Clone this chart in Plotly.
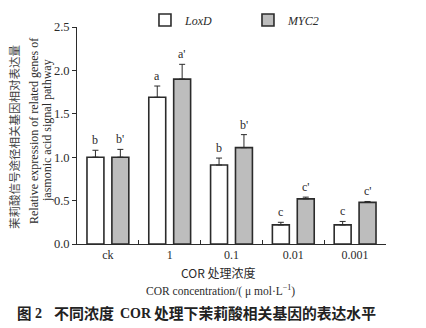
import plotly.graph_objects as go

# Relative expression of jasmonic-acid pathway genes under COR treatments
categories = ["ck", "1", "0.1", "0.01", "0.001"]
loxd_values = [1.00, 1.69, 0.91, 0.22, 0.22]
loxd_errors = [0.08, 0.13, 0.08, 0.03, 0.04]
myc2_values = [1.00, 1.90, 1.11, 0.52, 0.48]
myc2_errors = [0.09, 0.17, 0.15, 0.02, 0.01]
loxd_letters = ["b", "a", "b", "c", "c"]
myc2_letters = ["b'", "a'", "b'", "c'", "c'"]
y_ticks = [0.0, 0.5, 1.0, 1.5, 2.0, 2.5]

SERIF = "Liberation Serif, Times New Roman, serif"
CJK = "Noto Sans CJK SC"
INK = "#2b2b2b"

W, H = 426, 328
L, R, T, B = 77, 40, 27, 84
pw, ph = W - L - R, H - T - B


def px_x(x):
    return (x - L) / pw


def px_y(y):
    return 1 - (y - T) / ph


fig = go.Figure()

for name, vals, errs, fill in [
    ("<i>LoxD</i>", loxd_values, loxd_errors, "#ffffff"),
    ("<i>MYC2</i>", myc2_values, myc2_errors, "#bdbdbd"),
]:
    fig.add_trace(go.Bar(
        x=categories, y=vals, name=name,
        marker=dict(color=fill, line=dict(color=INK, width=1.6)),
        error_y=dict(type="data", symmetric=False, array=errs,
                     arrayminus=[0] * len(errs), color=INK,
                     thickness=1, width=3),
    ))

# significance letters above each error bar (x given as category index)
slot_px = 25
for i in range(len(categories)):
    for letters, vals, errs, shift in [
        (loxd_letters, loxd_values, loxd_errors, -slot_px / 2),
        (myc2_letters, myc2_values, myc2_errors, slot_px / 2),
    ]:
        fig.add_annotation(
            x=i, y=vals[i] + errs[i], xref="x", yref="y",
            text=letters[i], showarrow=False,
            xshift=shift, yshift=1, xanchor="center", yanchor="bottom",
            font=dict(family=SERIF, size=12, color=INK),
        )


def paper_text(x, y, text, font, angle=0, xanchor="center"):
    fig.add_annotation(x=px_x(x), y=px_y(y), xref="paper", yref="paper",
                       text=text, textangle=angle, showarrow=False,
                       xanchor=xanchor, yanchor="middle", font=font)


# y-axis titles (Chinese + English, rotated)
paper_text(14, 137, "茉莉酸信号途径相关基因相对表达量",
           dict(family=CJK, size=11.5, color="#444"), angle=-90)
paper_text(34, 131, "Relative expression of related genes of",
           dict(family=SERIF, size=12, color=INK), angle=-90)
paper_text(47, 131, "jasmonic acid signal pathway",
           dict(family=SERIF, size=12, color=INK), angle=-90)

# x-axis titles
paper_text(218, 272, "COR 处理浓度", dict(family=CJK, size=12, color=INK))
paper_text(220, 290, "COR concentration/( μ mol·L<sup>−1</sup>)",
           dict(family=SERIF, size=11.5, color=INK))

# figure caption, set in pieces so the Latin parts use a bold serif
CAP = "#222"
CY = 312
paper_text(15, CY, "<b>图</b>", dict(family=CJK, size=14.5, color=CAP), xanchor="left")
paper_text(33, CY + 1, "<b>2</b>", dict(family=SERIF, size=14, color=CAP), xanchor="left")
paper_text(52, CY, "<b>不同浓度</b>", dict(family=CJK, size=15, color=CAP), xanchor="left")
paper_text(118, CY + 1, "<b>COR</b>", dict(family=SERIF, size=14, color=CAP), xanchor="left")
paper_text(152, CY, "<b>处理下茉莉酸相关基因的表达水平</b>",
           dict(family=CJK, size=14.8, color=CAP), xanchor="left")

fig.update_layout(
    width=W, height=H,
    margin=dict(l=L, r=R, t=T, b=B, autoexpand=False),
    paper_bgcolor="white", plot_bgcolor="white",
    barmode="group", bargap=0.194, bargroupgap=0.32,
    showlegend=True,
    legend=dict(orientation="h", x=0.22, y=px_y(20), xanchor="left", yanchor="middle",
                font=dict(family=SERIF, size=12, color=INK),
                bgcolor="rgba(0,0,0,0)", itemwidth=30,
                entrywidth=58, entrywidthmode="pixels"),
    font=dict(family=SERIF, color=INK),
)
fig.update_xaxes(
    type="category",
    showline=True, linecolor=INK, linewidth=1,
    ticks="inside", tickson="boundaries", ticklen=4, tickcolor=INK,
    tickfont=dict(family=SERIF, size=12, color=INK),
    showgrid=False, zeroline=False,
)
fig.update_yaxes(
    range=[0, 2.5], tickvals=y_ticks, ticktext=[f"{v:.1f}" for v in y_ticks],
    showline=True, linecolor=INK, linewidth=1,
    ticks="outside", ticklen=4, tickcolor=INK,
    tickfont=dict(family=SERIF, size=12.5, color=INK),
    showgrid=False, zeroline=False,
)

fig.write_html("out.html")
